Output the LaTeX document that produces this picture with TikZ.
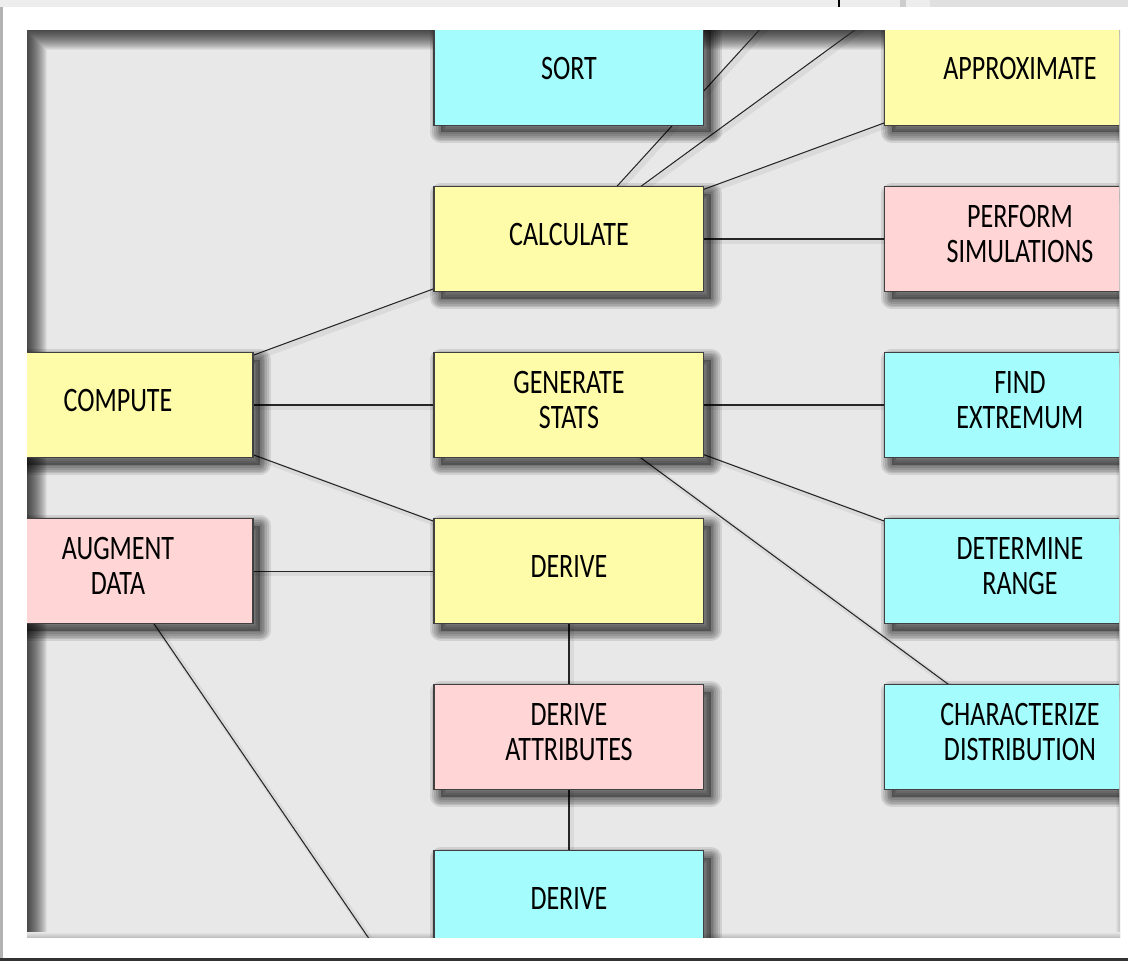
\documentclass[tikz,border=0pt]{standalone}
\usepackage{fontspec}
\setmainfont{Carlito}[FakeStretch=0.76]
\usetikzlibrary{positioning}

\definecolor{paneltone}{HTML}{E8E8E8}
\definecolor{taskyellow}{HTML}{FFFCA9}
\definecolor{taskpink}{HTML}{FFD5D5}
\definecolor{taskcyan}{HTML}{A5FCFC}

\pgfdeclarelayer{panel}
\pgfdeclarelayer{links}
\pgfsetlayers{panel,links,main}

\tikzset{
  shadowring/.style={preaction={draw=black, draw opacity=0.1, line width=#1,
      line join=round, transform canvas={xshift=4pt, yshift=-4pt}}},
  softshadow/.style={
    preaction={fill=black, fill opacity=0.3,
      transform canvas={xshift=4pt, yshift=-4pt}},
    shadowring=2pt, shadowring=4pt, shadowring=6pt,
    shadowring=8pt, shadowring=10pt, shadowring=12pt},
  task/.style={draw=black!75, line width=0.6pt, minimum width=5.4cm,
    minimum height=2.1cm, align=center, text depth=0.2cm,
    font=\fontsize{19.5}{20}\selectfont, softshadow},
  yellowtask/.style={task, fill=taskyellow},
  pinktask/.style={task, fill=taskpink},
  cyantask/.style={task, fill=taskcyan},
  link/.style={draw=black!85, line width=0.6pt,
    preaction={draw=black, draw opacity=0.06, line width=3pt,
      transform canvas={xshift=1.5pt, yshift=-1.5pt}}}
}

\begin{document}
\begin{tikzpicture}[x=0.02cm, y=-0.02cm, node distance=1.2cm and 3.6cm]

\useasboundingbox (0,0) rectangle (1128,961);

% the window and the sheet
\begin{pgfonlayer}{panel}
    \fill[black!7] (0,0) rectangle (1128,7);
    \fill[black] (838,0) rectangle (840,7);
    \fill[black!20] (900,0) rectangle (906,7);
    \fill[black!12] (930,0) rectangle (1128,7);
    \fill[black!30] (0,7) rectangle (3,961);
    \fill[white] (3,7) rectangle (1128,958);
    \fill[black!80] (0,958) rectangle (1128,961);
    \fill[paneltone] (27,30) rectangle (1119,937);
    \foreach \w in {1,...,20}{
        \fill[black, opacity=0.05] (27,30) rectangle (1119,30+\w);
        \fill[black, opacity=0.05] (27,30+\w) rectangle (27+\w,937);
    }
    \shade[left color=paneltone, right color=black!25] (1115,30) rectangle (1120,937);
    \shade[top color=paneltone, bottom color=black!25] (27,932) rectangle (1120,937);
\end{pgfonlayer}

\begin{scope}
    \clip (27,30) rectangle (1119,937);

    % middle column
    \node[yellowtask] (compute) at (118,405) {COMPUTE};
    \node[yellowtask, right=of compute] (stats) {GENERATE\\STATS};
    \node[yellowtask, above=of stats] (calc) {CALCULATE};
    \node[cyantask, above=of calc] (sort) {SORT};
    \node[yellowtask, below=of stats] (derive) {DERIVE};
    \node[pinktask, below=of derive] (attrs) {DERIVE\\ATTRIBUTES};
    \node[cyantask, below=of attrs] (derived) {DERIVE};
    \node[pinktask, left=of derive] (augment) {AUGMENT\\DATA};

    % right column
    \node[yellowtask, right=of sort] (approx) {APPROXIMATE};
    \node[pinktask, right=of calc] (simul) {PERFORM\\SIMULATIONS};
    \node[cyantask, right=of stats] (extremum) {FIND\\EXTREMUM};
    \node[cyantask, right=of derive] (range) {DETERMINE\\RANGE};
    \node[cyantask, right=of attrs] (distrib) {CHARACTERIZE\\DISTRIBUTION};

    % ends of links that leave the sheet
    \coordinate (farup) at (1019,-255);
    \coordinate (up) at (1019,-90);
    \coordinate (fardown) at (568,1230);
\end{scope}

\begin{pgfonlayer}{links}
\begin{scope}
    \clip (27,30) rectangle (1119,937);
    \draw[link] (calc.center) -- (farup);
    \draw[link] (calc.center) -- (up);
    \draw[link] (calc.center) -- (approx.center);
    \draw[link] (calc.center) -- (simul.center);
    \draw[link] (compute.center) -- (calc.center);
    \draw[link] (compute.center) -- (stats.center);
    \draw[link] (compute.center) -- (derive.center);
    \draw[link] (stats.center) -- (extremum.center);
    \draw[link] (stats.center) -- (range.center);
    \draw[link] (stats.center) -- (distrib.center);
    \draw[link] (augment.center) -- (derive.center);
    \draw[link] (augment.center) -- (fardown);
    \draw[link] (derive.center) -- (attrs.center);
    \draw[link] (attrs.center) -- (derived.center);
\end{scope}
\end{pgfonlayer}

\end{tikzpicture}
\end{document}
